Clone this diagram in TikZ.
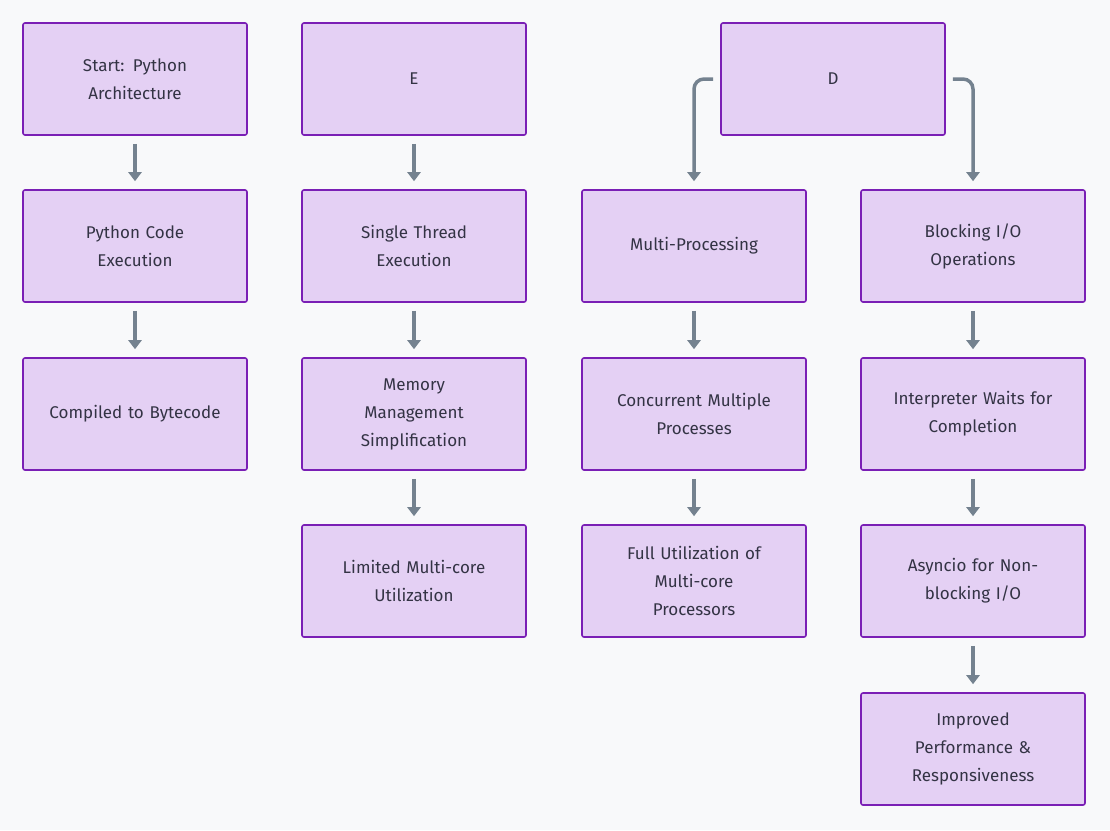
\documentclass[tikz,border=0pt]{standalone}
\usepackage{fontspec}
\setmainfont{Fira Sans}
\usetikzlibrary{arrows.meta}
\definecolor{bg}{HTML}{F8F9FA}
\definecolor{boxf}{HTML}{E4D0F4}
\definecolor{boxd}{HTML}{7A1FB5}
\definecolor{arr}{HTML}{74828F}
\definecolor{txt}{HTML}{333344}
\begin{document}
\begin{tikzpicture}[x=1pt,y=-1pt,
 box/.style={draw=boxd,line width=1.6pt,fill=boxf,rounded corners=2pt,minimum width=224pt,minimum height=112pt,align=center,text width=200pt,font=\fontsize{17}{28}\selectfont,text=txt},
 ar/.style={draw=arr,line width=3.5pt,-{Triangle[length=9pt,width=13pt]},shorten >=8pt,shorten <=8pt}]
\fill[bg] (0,0) rectangle (1110,830);
\useasboundingbox (0,0) rectangle (1110,830);
\node[box] (s) at (135,79) {Start: Python\\Architecture};
\node[box] (pc) at (135,246) {Python Code\\Execution};
\node[box] (cb) at (135,414) {Compiled to Bytecode};
\node[box] (e) at (414,79) {E};
\node[box] (st) at (414,246) {Single Thread\\Execution};
\node[box] (mm) at (414,414) {Memory\\Management\\Simplification};
\node[box] (lm) at (414,581) {Limited Multi-core\\Utilization};
\node[box] (d) at (833,79) {D};
\node[box] (mp) at (694,246) {Multi-Processing};
\node[box] (cm) at (694,414) {Concurrent Multiple\\Processes};
\node[box] (fu) at (694,581) {Full Utilization of\\Multi-core\\Processors};
\node[box] (bi) at (973,246) {Blocking I/O\\Operations};
\node[box] (iw) at (973,414) {Interpreter Waits for\\Completion};
\node[box] (as) at (973,581) {Asyncio for Non-\\blocking I/O};
\node[box] (ip) at (973,749) {Improved\\Performance \&\\Responsiveness};
\draw[ar] (s)--(pc); \draw[ar] (pc)--(cb);
\draw[ar] (e)--(st); \draw[ar] (st)--(mm); \draw[ar] (mm)--(lm);
\draw[ar] (mp)--(cm); \draw[ar] (cm)--(fu);
\draw[ar] (bi)--(iw); \draw[ar] (iw)--(as); \draw[ar] (as)--(ip);
\draw[ar,shorten <=7pt,rounded corners=10pt] (d.west) -| (mp.north);
\draw[ar,shorten <=7pt,rounded corners=10pt] (d.east) -| (bi.north);
\end{tikzpicture}
\end{document}
